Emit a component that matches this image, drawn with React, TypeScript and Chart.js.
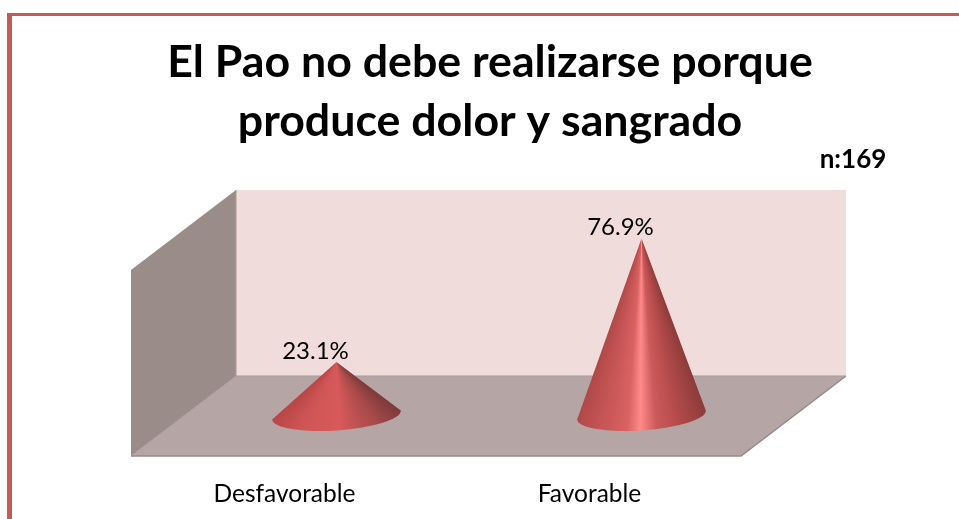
import React, { useEffect, useRef } from "react";
import { Chart, registerables } from "chart.js";

Chart.register(...registerables);

const titleLines = ["El Pao no debe realizarse porque", "produce dolor y sangrado"];
const sampleNote = "n:169";
const categories = ["Desfavorable", "Favorable"];
const percentValues = [23.1, 76.9];
const axisMax = 81;

const FONT = "Lato, 'Open Sans', sans-serif";
const frontOffset = { x: -53, y: 41 };
const backOffset = { x: 52, y: -39 };

const shading = [
  [
    [0, "#7d3a3a"],
    [0.2, "#a84a4a"],
    [0.5, "#d85a5a"],
    [0.8, "#cf5555"],
    [1, "#b84646"],
  ],
  [
    [0, "#8c3b3b"],
    [0.25, "#b84c4c"],
    [0.4, "#cc5a5a"],
    [0.52, "#ff8a8a"],
    [0.62, "#d86262"],
    [0.85, "#c25252"],
    [1, "#b04848"],
  ],
] as [number, string][][];

const poly = (ctx: CanvasRenderingContext2D, pts: number[][], fill: any) => {
  ctx.beginPath();
  pts.forEach(([x, y], i) => (i ? ctx.lineTo(x, y) : ctx.moveTo(x, y)));
  ctx.closePath();
  ctx.fillStyle = fill;
  ctx.fill();
};

const scenePlugin = {
  id: "scene",
  beforeDraw(chart: any) {
    const { ctx, chartArea: a, width, height } = chart;
    ctx.save();
    ctx.fillStyle = "#ffffff";
    ctx.fillRect(0, 0, width, height);

    // page border
    ctx.fillStyle = "#c55a57";
    ctx.fillRect(7, 13, width - 7, 3);
    ctx.fillRect(7, 13, 5, height - 13);

    const bx0 = a.left + backOffset.x;
    const bx1 = a.right + backOffset.x;
    const by0 = a.top + backOffset.y;
    const by1 = a.bottom + backOffset.y;
    const fx0 = a.left + frontOffset.x;
    const fx1 = a.right + frontOffset.x;
    const fy0 = a.top + frontOffset.y;
    const fy1 = a.bottom + frontOffset.y;

    poly(ctx, [[bx0, by0], [bx1, by0], [bx1, by1], [bx0, by1]], "#f0dcda");
    poly(ctx, [[fx0, fy0], [bx0, by0], [bx0, by1], [fx0, fy1]], "#9a8c89");
    poly(ctx, [[fx0, fy1], [fx1, fy1], [bx1, by1], [bx0, by1]], "#b5a6a5");

    ctx.strokeStyle = "#958a8a";
    ctx.lineWidth = 1.5;
    ctx.beginPath();
    ctx.moveTo(fx0, fy1);
    ctx.lineTo(fx1, fy1);
    ctx.lineTo(bx1, by1);
    ctx.stroke();
    ctx.strokeStyle = "#a89a98";
    ctx.lineWidth = 1;
    ctx.beginPath();
    ctx.moveTo(fx0, fy1);
    ctx.lineTo(bx0, by1);
    ctx.lineTo(bx1, by1);
    ctx.moveTo(bx0, by0);
    ctx.lineTo(bx0, by1);
    ctx.stroke();
    ctx.restore();
  },
  afterDatasetsDraw(chart: any) {
    const { ctx } = chart;
    const meta = chart.getDatasetMeta(0);
    const tilt = (-4 * Math.PI) / 180;
    meta.data.forEach((bar: any, i: number) => {
      const cx = bar.x;
      const cy = bar.base;
      const rx = bar.width / 2;
      const ry = 15.5;
      const ax = bar.x;
      const ay = bar.y;
      const rxEnd = cx + rx * Math.cos(tilt);
      const ryEnd = cy + rx * Math.sin(tilt);
      const lxEnd = cx - rx * Math.cos(tilt);
      const lyEnd = cy - rx * Math.sin(tilt);
      const start = Math.atan2(ryEnd - ay, rxEnd - ax);
      const end = Math.atan2(lyEnd - ay, lxEnd - ax);
      const grad = ctx.createConicGradient(start, ax, ay);
      const span = (end - start) / (2 * Math.PI);
      shading[i].forEach(([t, c]) => grad.addColorStop(t * span, c));
      grad.addColorStop(Math.min(1, span + 0.001), shading[i][shading[i].length - 1][1]);
      ctx.save();
      ctx.beginPath();
      ctx.moveTo(ax, ay);
      ctx.lineTo(rxEnd, ryEnd);
      ctx.ellipse(cx, cy, rx, ry, tilt, 0, Math.PI, false);
      ctx.closePath();
      ctx.fillStyle = grad;
      ctx.fill();
      ctx.restore();

      ctx.save();
      ctx.fillStyle = "#000000";
      ctx.font = `24px ${FONT}`;
      ctx.textAlign = "center";
      ctx.textBaseline = "middle";
      ctx.fillText(`${percentValues[i]}%`, ax - 21, ay - 11);
      ctx.restore();
    });

    ctx.save();
    ctx.fillStyle = "#000000";
    ctx.font = `bold 26px ${FONT}`;
    ctx.textAlign = "center";
    ctx.textBaseline = "middle";
    ctx.fillText(sampleNote, 853, 160);
    ctx.restore();
  },
};

const hiddenAxis = (position: string, width: number) => ({
  position,
  display: true,
  min: 0,
  max: axisMax,
  grid: { display: false, drawTicks: false },
  border: { display: false },
  ticks: { display: false },
  afterFit(scale: any) {
    scale.width = width;
  },
});

export default function App() {
  const ref = useRef<HTMLCanvasElement>(null);
  useEffect(() => {
    const chart = new Chart(ref.current!, {
      type: "bar",
      data: {
        labels: categories,
        datasets: [
          {
            data: percentValues,
            backgroundColor: "rgba(0,0,0,0)",
            barPercentage: 0.423,
            categoryPercentage: 1,
          },
        ],
      },
      options: {
        animation: false,
        responsive: false,
        layout: { padding: { left: 21, right: 0, top: 33, bottom: 14 } },
        plugins: {
          legend: { display: false },
          tooltip: { enabled: false },
          title: {
            display: true,
            text: titleLines,
            color: "#000000",
            font: { family: FONT, size: 44.7, weight: "bold", lineHeight: 59 / 44.7 },
            padding: { top: 0, bottom: 78 },
          },
        },
        scales: {
          x: {
            grid: { display: false, drawTicks: false },
            border: { display: false },
            afterFit(scale: any) {
              scale.height = 90;
            },
            ticks: {
              color: "#000000",
              font: { family: FONT, size: 24.5 },
              padding: 64,
              labelOffset: -52,
              maxRotation: 0,
              autoSkip: false,
            },
          },
          y: hiddenAxis("left", 163),
          yRight: hiddenAxis("right", 165),
        },
      },
      plugins: [scenePlugin],
    } as any);
    return () => chart.destroy();
  }, []);
  return (
    <div style={{ position: "fixed", left: 0, top: 0, width: 959, height: 519 }}>
      <canvas ref={ref} width={959} height={519} style={{ display: "block" }} />
    </div>
  );
}
